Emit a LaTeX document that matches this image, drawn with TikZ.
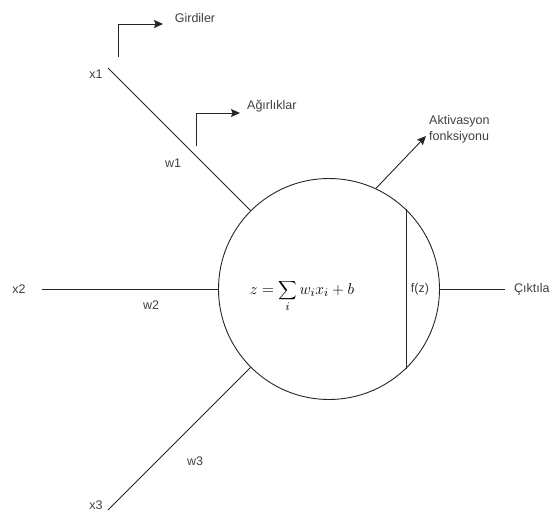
\documentclass[tikz,border=0pt]{standalone}
\usepackage{fontspec}
\setmainfont{Liberation Sans}
\usepackage{graphicx}
\usepackage{xcolor}
\usepackage{tikz}
\usetikzlibrary{arrows.meta,positioning}

\begin{document}
\begin{tikzpicture}[x=1pt,y=-1pt,
    lbl/.style={text=black!75,font=\fontsize{12.5}{16}\selectfont,inner sep=0pt},
    wire/.style={line width=0.9pt,draw=black!85},
    pointer/.style={wire,-{Stealth[length=9pt,width=8pt,inset=1.5pt]}}]
        \useasboundingbox (0,0) rectangle (555,514);
        \node[circle,wire,minimum size=221pt,inner sep=0pt] (neuron) at (329,289) {};
        \node[lbl,text=black,anchor=base] (sum) at (302,294)
          {\scalebox{1.3}{$z=\displaystyle\sum_{i} w_i x_i + b$}};
        \draw[wire] (neuron.46) -- (neuron.-46);
        \node[lbl] (fz) at (420,289) {f(z)};
        \foreach \n/\lx/\ly/\ex/\ey/\a in {1/96/74/108/68/135, 2/19/289/42/289/180, 3/96/505/108/510/225}
          {
          \node[lbl] (x\n) at (\lx,\ly) {x\n};
          \coordinate (in\n) at (\ex,\ey);
          \draw[wire] (in\n) -- (neuron.\a);
          }
        \foreach \n/\wx/\wy in {1/173/163, 2/151/305, 3/195/461}
          \node[lbl] (w\n) at (\wx,\wy) {w\n};
        \coordinate (out) at (505,289);
        \draw[wire] (neuron.east) -- (out);
        \node[lbl,anchor=west] (cikti) at (514,289) {Çıktıla};
        \node[lbl] (girdi) at (195,18) {Girdiler};
        \coordinate (g0) at (118,57);
        \coordinate (g1) at (163,24);
        \draw[pointer] (g0) |- (g1);
        \node[lbl,anchor=west] (agirlik) at (247,106) {Ağırlıklar};
        \coordinate (a0) at (196,146);
        \coordinate (a1) at (240,113);
        \draw[pointer] (a0) |- (a1);
        \node[lbl,anchor=west,align=left] (aktiv) at (429,129) {Aktivasyon\\fonksiyonu};
        \coordinate (act) at (426,136);
        \draw[pointer] (neuron.65) -- (act);
      \end{tikzpicture}
\end{document}
